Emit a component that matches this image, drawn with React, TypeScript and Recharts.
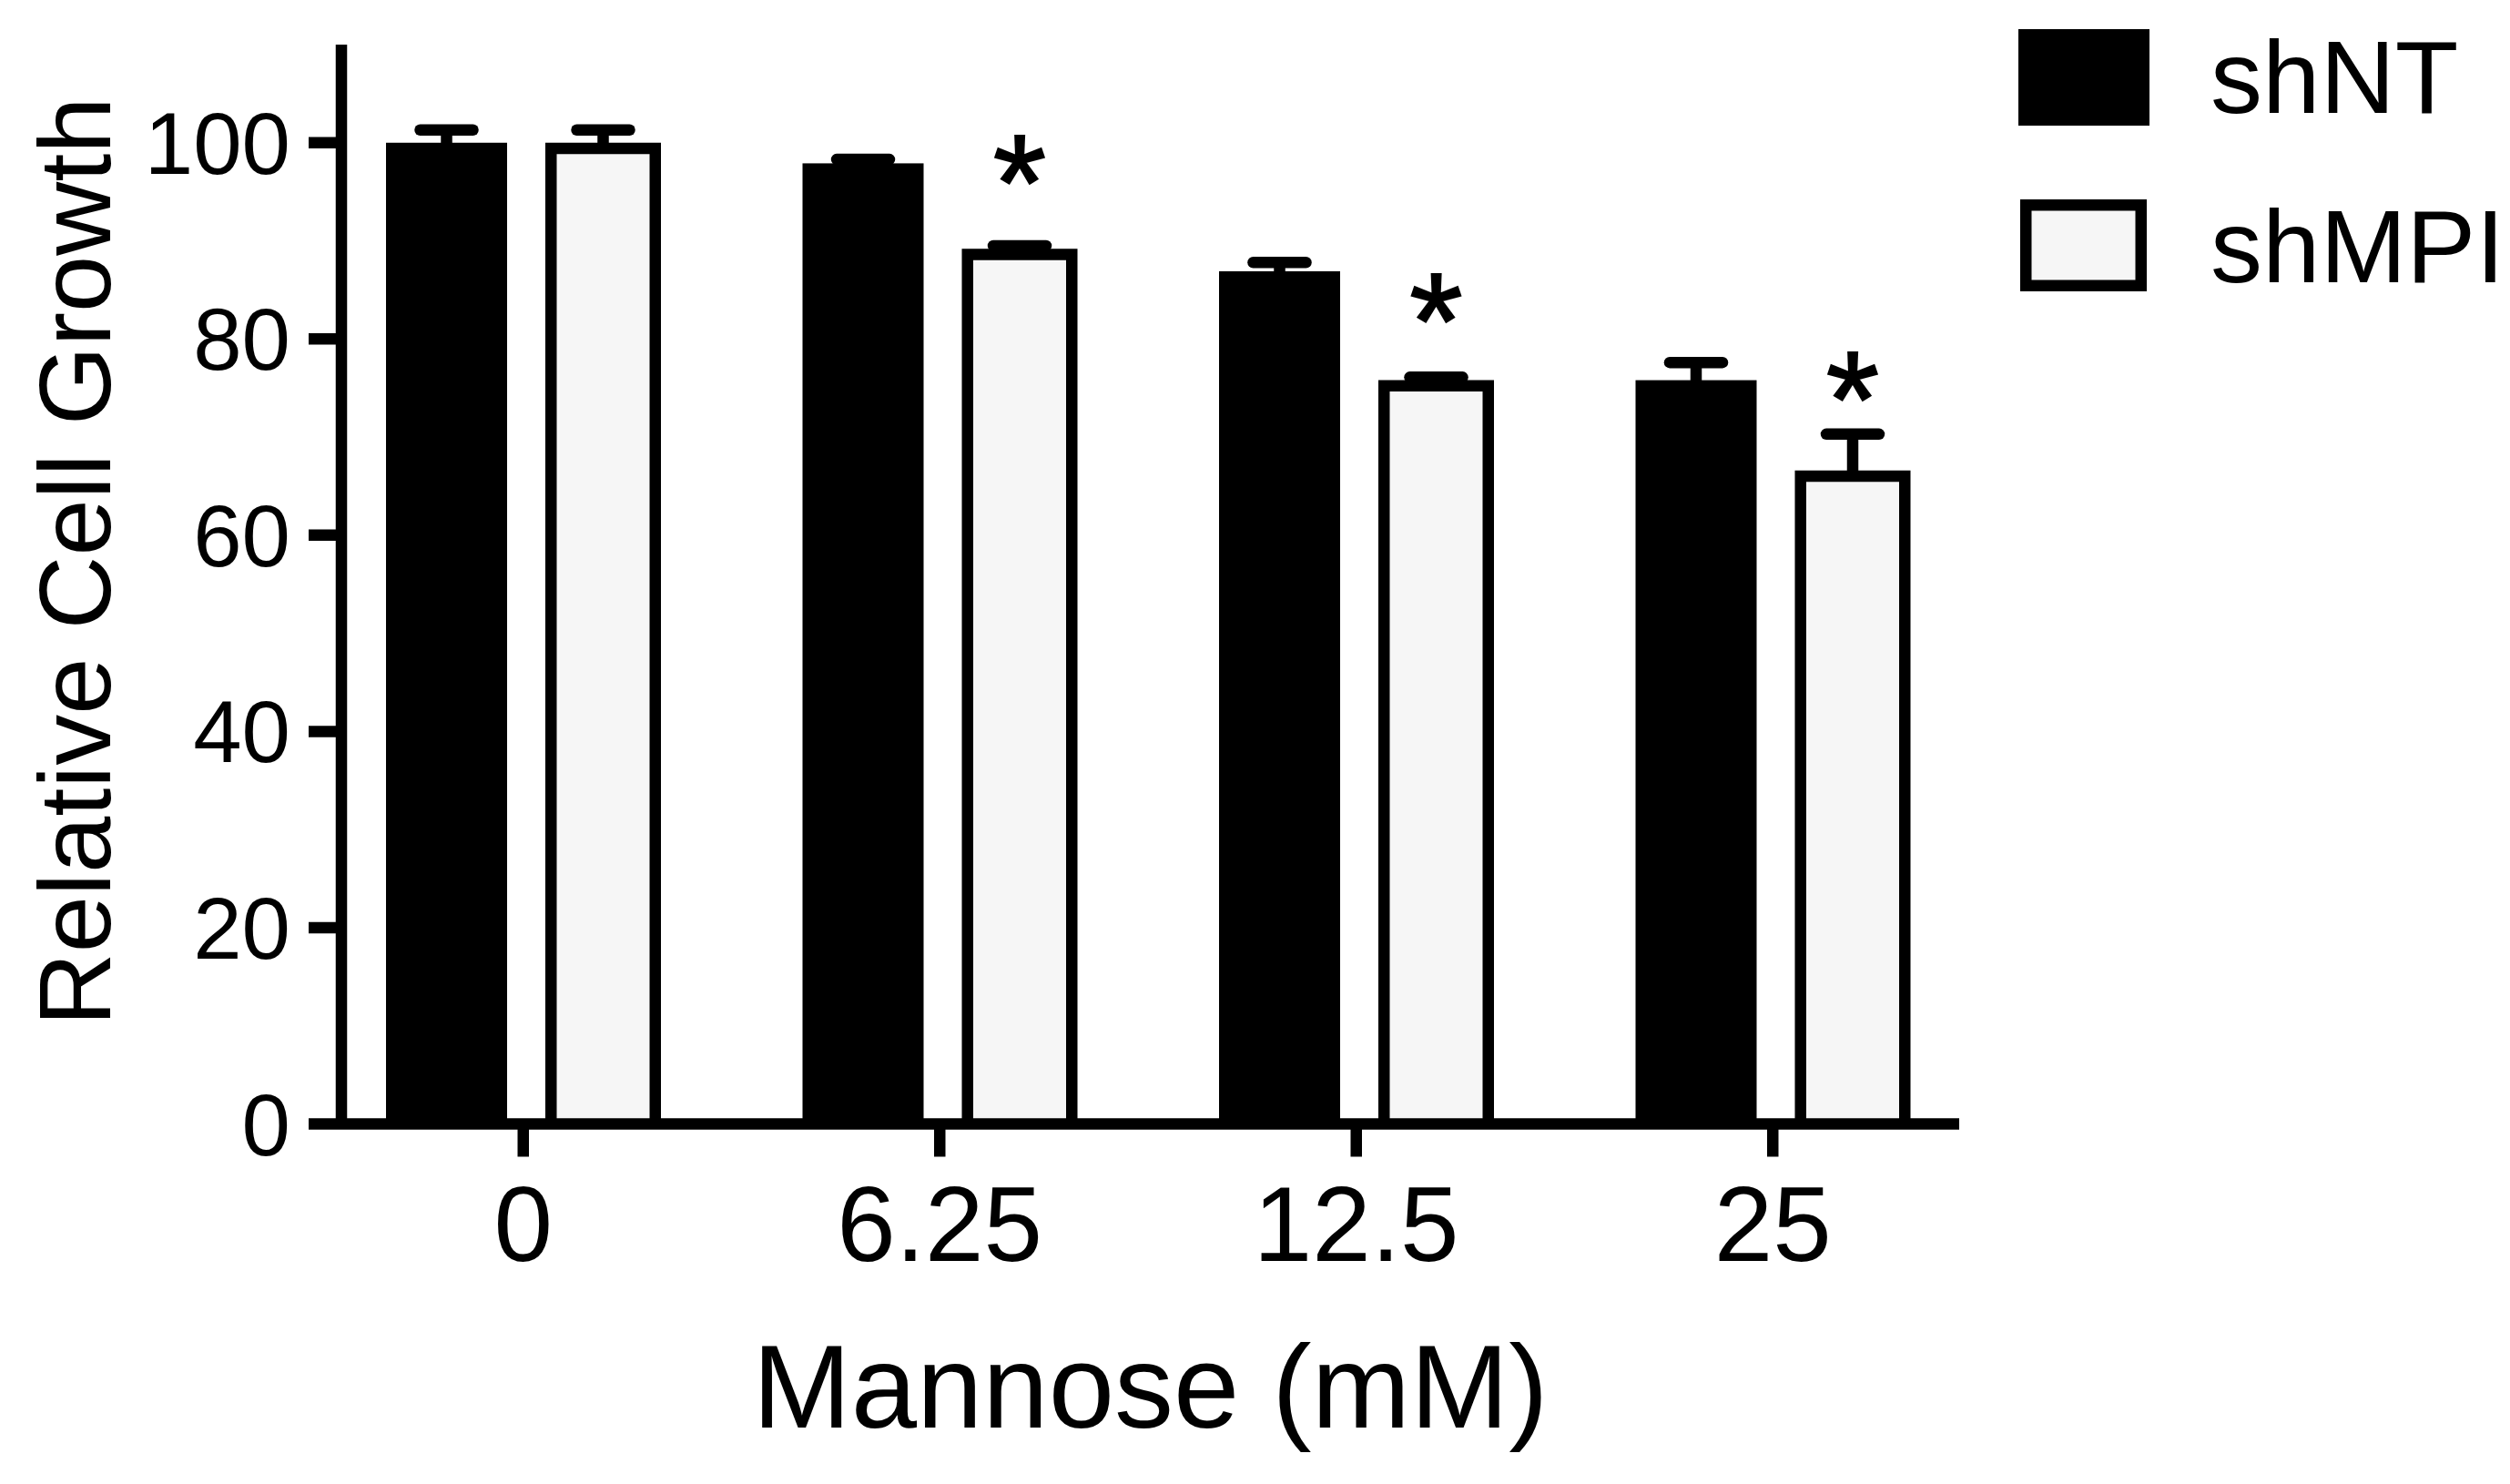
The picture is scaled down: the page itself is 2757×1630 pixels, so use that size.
import React from "react";
import { Bar, BarChart, Label, LabelList, Legend, XAxis, YAxis } from "recharts";

// Mannose dose (mM) on the x axis
const doses = ["0", "6.25", "12.5", "25"];
// relative growth, mean and upper error (SEM) per dose
const shNT = [100, 97.9, 86.9, 75.8];
const shNTErr = [1.3, 0.4, 0.9, 1.8];
const shMPI = [100, 89.2, 75.8, 66.6];
const shMPIErr = [1.3, 0.3, 0.3, 3.7];
// where the significance star sits (in axis units), null = no star
const starAt: (number | null)[] = [null, 98.2, 84.1, 76.1];
const yTicks = [0, 20, 40, 60, 80, 100];
const seriesOrder = ["shNT", "shMPI"];

const data = doses.map((dose, i) => ({ dose, shNT: shNT[i], shMPI: shMPI[i] }));

const FONT = '"Liberation Sans", Arial, Helvetica, sans-serif';
const SW = 12.5;
const LIGHT = "#f6f6f6";

const SolidBar = (p: any) => (
  <rect x={p.x} y={p.y} width={p.width} height={p.height} fill="#000" />
);

// GraphPad draws the outline inside the bar, open at the baseline
const OutlineBar = (p: any) => {
  const h = SW / 2;
  const { x, y, width, height } = p;
  if (!height) return null;
  return (
    <g>
      <rect x={x} y={y} width={width} height={height} fill={LIGHT} />
      <path
        d={`M${x + h},${y + height} L${x + h},${y + h} L${x + width - h},${y + h} L${x + width - h},${y + height}`}
        fill="none"
        stroke="#000"
        strokeWidth={SW}
        strokeLinejoin="miter"
      />
    </g>
  );
};

function box(props: any) {
  const vb = props.viewBox ?? props;
  return { x: vb.x, y: vb.y, width: vb.width, height: vb.height };
}

// upward-only error bar, scaled from the bar's own geometry
const errorBar = (means: number[], errs: number[]) => (props: any) => {
  const { x, y, width, height } = box(props);
  const i = props.index;
  if (i == null || !height) return null;
  const perUnit = height / means[i];
  const cx = x + width / 2;
  const top = y - errs[i] * perUnit;
  return (
    <g>
      <line x1={cx} x2={cx} y1={y + SW / 2} y2={top} stroke="#000" strokeWidth={SW} />
      <line
        x1={cx - 29}
        x2={cx + 29}
        y1={top}
        y2={top}
        stroke="#000"
        strokeWidth={SW}
        strokeLinecap="round"
      />
    </g>
  );
};

const star = (props: any) => {
  const { x, y, width, height } = box(props);
  const i = props.index;
  const at = i == null ? null : starAt[i];
  if (at == null || !height) return null;
  const perUnit = height / shMPI[i];
  const cy = y + height - at * perUnit;
  return (
    <text
      x={x + width / 2}
      y={cy + 77}
      textAnchor="middle"
      fontSize={150}
      fontFamily={FONT}
      fill="#000"
      stroke="#000"
      strokeWidth={2}
    >
      *
    </text>
  );
};

const LegendBox = (props: any) => {
  const items = [...(props.payload ?? [])].sort(
    (a: any, b: any) => seriesOrder.indexOf(a.value) - seriesOrder.indexOf(b.value)
  );
  return (
    <svg width={607} height={350}>
      {items.map((item: any, i: number) =>
        i === 0 ? (
          <g key={item.value}>
            <rect x={67} y={32} width={144} height={106} fill="#000" />
            <text x={278} y={124} fontSize={114} fontFamily={FONT} fill="#000">
              {item.value}
            </text>
          </g>
        ) : (
          <g key={item.value}>
            <rect
              x={69 + SW / 2}
              y={219 + SW / 2}
              width={139 - SW}
              height={101 - SW}
              fill={LIGHT}
              stroke="#000"
              strokeWidth={SW}
            />
            <text x={278} y={310} fontSize={114} fontFamily={FONT} fill="#000">
              {item.value}
            </text>
          </g>
        )
      )}
    </svg>
  );
};

const XTitle = (props: any) => {
  const { x, y, width } = box(props);
  return (
    <text
      x={x + width / 2}
      y={y + 333}
      textAnchor="middle"
      fontSize={130}
      fontFamily={FONT}
      fill="#000"
    >
      Mannose (mM)
    </text>
  );
};

const YTitle = (props: any) => {
  const { y, height } = box(props);
  const cy = y + height / 2 - 25;
  return (
    <text
      x={121}
      y={cy}
      transform={`rotate(-90 121 ${cy})`}
      textAnchor="middle"
      fontSize={112}
      fontFamily={FONT}
      fill="#000"
    >
      Relative Cell Growth
    </text>
  );
};

export default function App() {
  return (
    <div style={{ position: "absolute", left: 0, top: 0, background: "#fff" }}>
      <BarChart
        width={2757}
        height={1630}
        data={data}
        margin={{ top: 49, right: 605, bottom: 0, left: 0 }}
        barGap={42}
      >
        <XAxis
          dataKey="dose"
          height={395.5}
          padding={{ left: -29, right: -24 }}
          axisLine={{ stroke: "#000", strokeWidth: SW }}
          tickLine={{ stroke: "#000", strokeWidth: SW }}
          tickSize={36}
          tickMargin={32}
          tick={{ fontSize: 116, fill: "#000", fontFamily: FONT }}
          interval={0}
        >
          <Label content={XTitle} />
        </XAxis>
        <YAxis
          width={375}
          domain={[0, 110]}
          ticks={yTicks}
          interval={0}
          axisLine={{ stroke: "#000", strokeWidth: SW }}
          tickLine={{ stroke: "#000", strokeWidth: SW }}
          tickSize={36}
          tickMargin={20}
          tick={{ fontSize: 96, fill: "#000", fontFamily: FONT }}
        >
          <Label content={YTitle} />
        </YAxis>
        <Legend
          layout="vertical"
          align="center"
          verticalAlign="middle"
          content={LegendBox}
          wrapperStyle={{ left: 2150, top: 0, width: 607, height: 350 }}
        />
        <Bar
          dataKey="shNT"
          name="shNT"
          fill="#000"
          barSize={133}
          shape={SolidBar}
          isAnimationActive={false}
        >
          <LabelList dataKey="shNT" content={errorBar(shNT, shNTErr)} />
        </Bar>
        <Bar
          dataKey="shMPI"
          name="shMPI"
          fill={LIGHT}
          stroke="#000"
          barSize={127}
          shape={OutlineBar}
          isAnimationActive={false}
        >
          <LabelList dataKey="shMPI" content={errorBar(shMPI, shMPIErr)} />
          <LabelList dataKey="shMPI" content={star} />
        </Bar>
      </BarChart>
    </div>
  );
}
